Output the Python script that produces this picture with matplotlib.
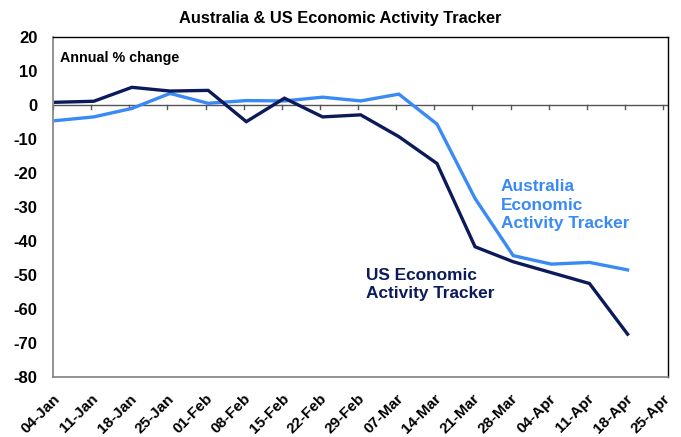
import matplotlib
matplotlib.use("Agg")
import matplotlib.pyplot as plt
import numpy as np

plt.rcParams['font.family'] = ['Liberation Sans', 'DejaVu Sans']
plt.rcParams['font.weight'] = 'bold'
plt.rcParams['axes.unicode_minus'] = False

dates = ["04-Jan", "11-Jan", "18-Jan", "25-Jan", "01-Feb", "08-Feb", "15-Feb", "22-Feb",
         "29-Feb", "07-Mar", "14-Mar", "21-Mar", "28-Mar", "04-Apr", "11-Apr", "18-Apr", "25-Apr"]
us_tracker = [0.8, 1.1, 5.2, 4.1, 4.3, -4.9, 2.0, -3.5, -2.9, -9.3, -17.2, -41.7, -46.1,
              -49.3, -52.5, -67.4]
aus_tracker = [-4.6, -3.5, -1.0, 3.4, 0.5, 1.3, 1.2, 2.3, 1.2, 3.2, -5.6, -27.5, -44.3,
               -46.8, -46.3, -48.5]

navy = "#0b1a5a"
light = "#3a8af5"

fig = plt.figure(figsize=(6.81, 4.37), dpi=100)
ax = fig.add_axes([53/681, 1-377/437, (668-53)/681, (377-37)/437])

x_us = np.arange(len(us_tracker)) + 0.07
x_aus = np.arange(len(aus_tracker)) + 0.07
ax.plot(x_aus, aus_tracker, color=light, lw=2.4, solid_joinstyle='miter')
ax.plot(x_us, us_tracker, color=navy, lw=2.4, solid_joinstyle='miter')

ax.set_ylim(-80, 20)
ax.set_yticks(np.arange(-80, 21, 10))
ax.set_xlim(0, len(dates) - 1 + 0.13)
ax.set_xticks(np.arange(len(dates)))
ax.set_xticklabels(dates, rotation=45, ha='right', rotation_mode='anchor', fontsize=11)
ax.tick_params(axis='x', length=0, pad=10.5)
ax.tick_params(axis='y', length=0, pad=11, labelsize=12)

# zero line with tick marks
ax.axhline(0, color='#555555', lw=1.0, zorder=1)
for xi in range(len(dates)):
    ax.plot([xi, xi], [0, -1.2], color='#555555', lw=1.0, zorder=1, clip_on=False)

for s in ['left', 'bottom']:
    ax.spines[s].set_color('#808080')
    ax.spines[s].set_linewidth(1.2)
for s in ['top', 'right']:
    ax.spines[s].set_color('black')
    ax.spines[s].set_linewidth(1.0)

ax.text(0.012, 0.96, "Annual % change", transform=ax.transAxes, fontsize=10.3,
        fontweight='bold', va='top', ha='left')
ax.text(11.75, -21.8, "Australia\nEconomic\nActivity Tracker", color=light, fontsize=12.4,
        fontweight='bold', va='top', ha='left', linespacing=1.3)
ax.text(8.2, -47.8, "US Economic\nActivity Tracker", color=navy, fontsize=12.4,
        fontweight='bold', va='top', ha='left', linespacing=1.3)

fig.text(0.5, 1-19/437, "Australia & US Economic Activity Tracker", ha='center', va='center',
         fontsize=11.8, fontweight='bold')

fig.savefig("out.png", dpi=100)
